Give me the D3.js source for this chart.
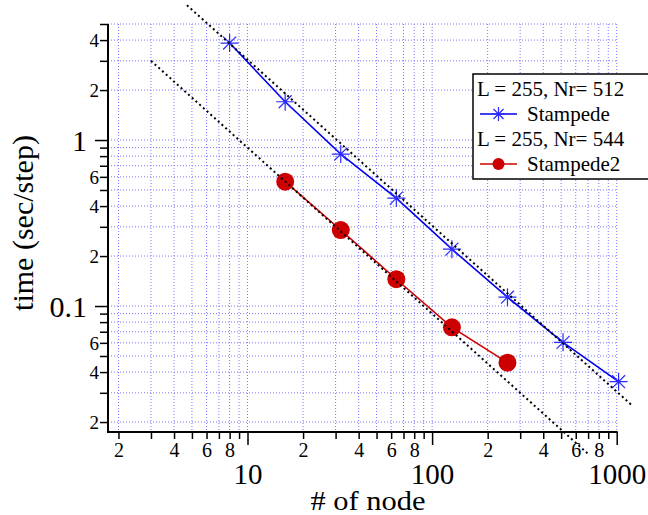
<!DOCTYPE html>
<html><head><meta charset="utf-8">
<script src="https://cdn.jsdelivr.net/npm/d3@7"></script>
<style>body{margin:0;background:#fff;} svg{display:block;}</style>
</head><body>
<script>
const nodesStampede = [8, 16, 32, 64, 128, 256, 512, 1024];
const timeStampede = [3.84, 1.70, 0.823, 0.447, 0.22, 0.113, 0.0604, 0.035];
const nodesStampede2 = [16, 32, 64, 128, 256];
const timeStampede2 = [0.561, 0.287, 0.145, 0.0744, 0.0456];
const idealUpper = {c: 30.5, x0: 4.7, x1: 1210};
const idealLower = {c: 9.0, x0: 3.0, x1: 700};
const xTicks = [2,3,4,5,6,7,8,9,10,20,30,40,50,60,70,80,90,100,200,300,400,500,600,700,800,900,1000];
const yTicks = [0.02,0.03,0.04,0.05,0.06,0.07,0.08,0.09,0.1,0.2,0.3,0.4,0.5,0.6,0.7,0.8,0.9,1,2,3,4,5];
const xMajor = [10,100,1000];
const yMajor = [0.1,1];
const xMinorLabelDigits = [2,4,6,8];
const yMinorLabelDigits = [2,4,6];
const legendLabels = ["L = 255, Nr= 512","Stampede","L = 255, Nr= 544","Stampede2"];

const FONT='"Liberation Serif","Times New Roman",serif';
const W=648,H=515;
const L=108,R=616.7,T=24,B=432;
const x=d3.scaleLog().domain([1.755,1000]).range([L,R]);
const y=d3.scaleLog().domain([0.01742,5]).range([B,T]);
const svg=d3.select("body").append("svg").attr("width",W).attr("height",H).attr("font-family",FONT);

const isMajor=(v,arr)=>arr.some(m=>Math.abs(v-m)/m<1e-6);
const firstDigit=v=>Math.round(v/Math.pow(10,Math.floor(Math.log10(v)+1e-9)));

// grid
const grid=svg.append("g").attr("stroke","#7878ff").attr("stroke-width",1).attr("stroke-dasharray","1,2");
xTicks.forEach(v=>grid.append("line").attr("x1",x(v)).attr("x2",x(v)).attr("y1",T).attr("y2",B));
yTicks.forEach(v=>grid.append("line").attr("y1",y(v)).attr("y2",y(v)).attr("x1",L).attr("x2",R));

// axes
const xAxis=d3.axisBottom(x).tickValues(xTicks).tickSize(7).tickSizeOuter(0)
  .tickFormat(v=>isMajor(v,xMajor)?String(v):(xMinorLabelDigits.includes(firstDigit(v))?String(firstDigit(v)):""));
const gx=svg.append("g").attr("transform",`translate(0,${B})`).call(xAxis).attr("font-family",FONT);
gx.select(".domain").attr("stroke","#000").attr("stroke-width",2).attr("d",`M${L-1},0H${R+1}`);
gx.selectAll(".tick line").attr("stroke","#000").attr("stroke-width",1.5).attr("y2",d=>isMajor(d,xMajor)?13:7);
gx.selectAll(".tick text").attr("fill","#000")
  .attr("font-size",d=>isMajor(d,xMajor)?29:20)
  .attr("dy",null).attr("dominant-baseline","central")
  .attr("y",d=>isMajor(d,xMajor)?42:18);

const yAxis=d3.axisLeft(y).tickValues(yTicks).tickSize(8).tickSizeOuter(0)
  .tickFormat(v=>isMajor(v,yMajor)?String(v):(yMinorLabelDigits.includes(firstDigit(v))?String(firstDigit(v)):""));
const gy=svg.append("g").attr("transform",`translate(${L},0)`).call(yAxis).attr("font-family",FONT);
gy.select(".domain").attr("stroke","#000").attr("stroke-width",2).attr("d",`M0,${T}V${B+1}`);
gy.selectAll(".tick line").attr("stroke","#000").attr("stroke-width",1.5).attr("x2",d=>isMajor(d,yMajor)?-13:-8);
gy.selectAll(".tick text").attr("fill","#000")
  .attr("font-size",d=>isMajor(d,yMajor)?30:19)
  .attr("dy",null).attr("dominant-baseline","central")
  .attr("x",d=>isMajor(d,yMajor)?-21:-9);

// titles
svg.append("text").attr("x",368).attr("y",510).attr("text-anchor","middle").attr("font-size",27)
  .attr("textLength",115).attr("lengthAdjust","spacingAndGlyphs").text("# of node");
svg.append("text").attr("transform","translate(33,223) rotate(-90)").attr("text-anchor","middle").attr("font-size",30).text("time (sec/step)");

// series
const line=d3.line().x(d=>x(d[0])).y(d=>y(d[1]));
const s1=nodesStampede.map((n,i)=>[n,timeStampede[i]]);
const s2=nodesStampede2.map((n,i)=>[n,timeStampede2[i]]);
svg.append("path").attr("d",line(s1)).attr("fill","none").attr("stroke","#0000ee").attr("stroke-width",1.6);
svg.append("path").attr("d",line(s2)).attr("fill","none").attr("stroke","#cc0000").attr("stroke-width",1.6);

function star(g,cx,cy,r){
  const a=r*0.72;
  g.append("path").attr("d",`M${cx-r},${cy}H${cx+r}M${cx},${cy-r}V${cy+r}M${cx-a},${cy-a}L${cx+a},${cy+a}M${cx-a},${cy+a}L${cx+a},${cy-a}`)
   .attr("stroke","#2a2aff").attr("stroke-width",1.2).attr("fill","none");
}
const mk=svg.append("g");
s1.forEach(d=>star(mk,x(d[0]),y(d[1]),9));
s2.forEach(d=>mk.append("circle").attr("cx",x(d[0])).attr("cy",y(d[1])).attr("r",9).attr("fill","#cc0000"));

// ideal lines
[idealUpper,idealLower].forEach(o=>{
  const pts=[[o.x0,o.c/o.x0],[o.x1,o.c/o.x1]];
  svg.append("path").attr("d",line(pts)).attr("fill","none").attr("stroke","#000").attr("stroke-width",2).attr("stroke-dasharray","2,3");
});

// legend
const lg=svg.append("g").attr("font-family",FONT);
lg.append("rect").attr("x",473).attr("y",74).attr("width",185).attr("height",105).attr("fill","#fff").attr("stroke","#000").attr("stroke-width",1.5);
lg.append("text").attr("x",477).attr("y",96).attr("font-size",21).text(legendLabels[0]);
lg.append("line").attr("x1",480).attr("x2",517).attr("y1",114).attr("y2",114).attr("stroke","#0000ee").attr("stroke-width",1.6);
star(lg,498.5,114,7);
lg.append("text").attr("x",527).attr("y",121).attr("font-size",21).text(legendLabels[1]);
lg.append("text").attr("x",477).attr("y",146).attr("font-size",21).text(legendLabels[2]);
lg.append("line").attr("x1",480).attr("x2",517).attr("y1",164).attr("y2",164).attr("stroke","#cc0000").attr("stroke-width",1.6);
lg.append("circle").attr("cx",498.5).attr("cy",164).attr("r",6).attr("fill","#cc0000");
lg.append("text").attr("x",527).attr("y",171).attr("font-size",21).text(legendLabels[3]);
</script>
</body></html>
